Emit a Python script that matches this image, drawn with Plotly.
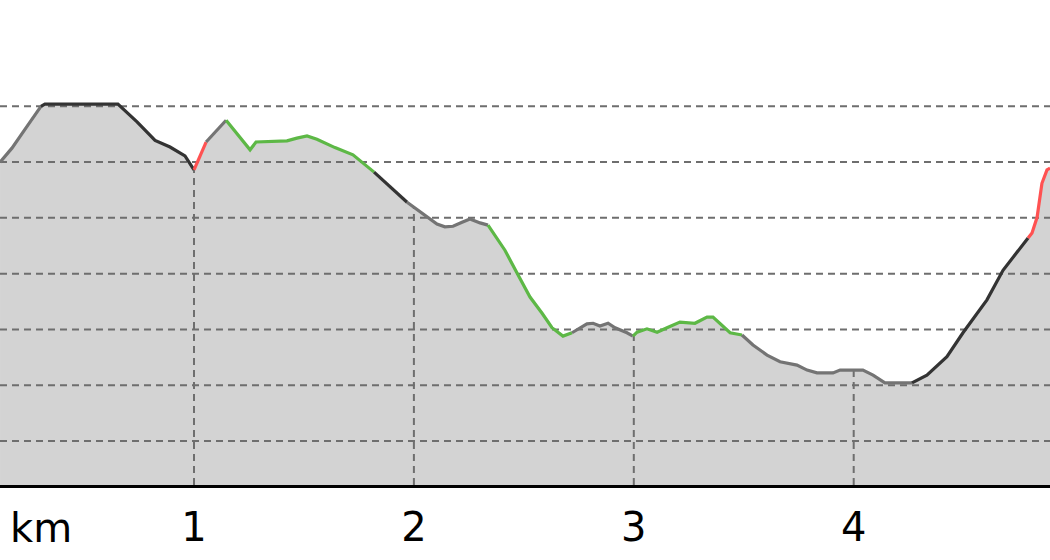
import numpy as np
import plotly.graph_objects as go

# distance along the route (km) and elevation (m)
dist_km = [0.118, 0.172, 0.232, 0.286, 0.304, 0.322, 0.654, 0.741, 0.823, 0.891,
           0.959, 1.000, 1.055, 1.146, 1.255, 1.282, 1.423, 1.468, 1.514, 1.559,
           1.641, 1.723, 1.819, 1.900, 1.969, 2.019, 2.105, 2.141, 2.178, 2.219,
           2.255, 2.301, 2.337, 2.414, 2.469, 2.528, 2.583, 2.628, 2.678, 2.719,
           2.755, 2.787, 2.815, 2.846, 2.883, 2.915, 2.969, 2.996, 3.015, 3.060,
           3.106, 3.151, 3.210, 3.278, 3.333, 3.360, 3.392, 3.438, 3.492, 3.542,
           3.606, 3.665, 3.742, 3.788, 3.833, 3.906, 3.938, 4.042, 4.088, 4.142,
           4.265, 4.333, 4.424, 4.497, 4.606, 4.679, 4.793, 4.811, 4.834, 4.856,
           4.879, 4.893]
elev_m = [160.0, 162.5, 165.9, 169.0, 170.0, 170.4, 170.4, 167.2, 163.9, 162.7,
          161.1, 158.6, 163.6, 167.5, 162.2, 163.6, 163.8, 164.3, 164.7, 164.1,
          162.6, 161.3, 158.2, 155.3, 152.8, 151.4, 148.9, 148.4, 148.5, 149.2,
          149.8, 149.1, 148.7, 144.2, 140.1, 135.8, 132.9, 130.3, 128.8, 129.4,
          130.3, 131.0, 131.1, 130.6, 131.1, 130.3, 129.4, 128.8, 129.5, 130.1,
          129.5, 130.3, 131.3, 131.1, 132.2, 132.2, 131.1, 129.4, 129.0, 127.2,
          125.4, 124.2, 123.6, 122.7, 122.2, 122.2, 122.7, 122.7, 121.8, 120.4,
          120.4, 121.8, 125.1, 129.4, 135.3, 140.6, 146.4, 147.3, 150.1, 156.2,
          158.6, 158.9]
# colour class of the segment that starts at each point
seg_class = (["gray"] * 4 + ["black"] * 7 + ["red"] + ["gray"] + ["green"] * 9
             + ["black"] * 2 + ["gray"] * 8 + ["green"] * 7 + ["gray"] * 8
             + ["green"] * 11 + ["gray"] * 12 + ["black"] * 6 + ["red"] * 5)

km_ticks = [1, 2, 3, 4]
km_labels = ["1", "2", "3", "4"]
grid_elev = [110, 120, 130, 140, 150, 160, 170]

class_colors = {"gray": "#747474", "black": "#333333",
                "red": "#ff5252", "green": "#5db846"}

x_range = [0.1178, 4.8927]
y_range = [102.1, 180.1]

fig = go.Figure()

# filled profile
fig.add_trace(go.Scatter(x=dist_km, y=elev_m, mode="lines", fill="tozeroy",
                         fillcolor="#d3d3d3", line=dict(width=0),
                         hoverinfo="skip", showlegend=False))

# horizontal dashed gridlines drawn above the fill
gx, gy = [], []
for v in grid_elev:
    gx += [x_range[0], x_range[1], None]
    gy += [v, v, None]
fig.add_trace(go.Scatter(x=gx, y=gy, mode="lines",
                         line=dict(color="#6e6e6e", width=2, dash="7px,5px"),
                         hoverinfo="skip", showlegend=False))

# vertical dashed lines at each km from the axis up to the profile
vx, vy = [], []
for k in km_ticks:
    vx += [k, k, None]
    vy += [y_range[0], float(np.interp(k, dist_km, elev_m)), None]
fig.add_trace(go.Scatter(x=vx, y=vy, mode="lines",
                         line=dict(color="#6e6e6e", width=2, dash="7px,5px"),
                         hoverinfo="skip", showlegend=False))

# coloured profile line, one trace per run of the same class
n = len(dist_km)
i = 0
while i < n - 1:
    c = seg_class[i]
    j = i
    while j < n - 1 and seg_class[j] == c:
        j += 1
    fig.add_trace(go.Scatter(x=dist_km[i:j + 1], y=elev_m[i:j + 1], mode="lines",
                             line=dict(color=class_colors[c], width=3.2),
                             hoverinfo="skip", showlegend=False))
    i = j

fig.add_annotation(text="km", xref="paper", yref="paper", x=8 / 1050, y=-43 / 435,
                   xanchor="left", yanchor="middle", showarrow=False,
                   font=dict(family="DejaVu Sans", size=40, color="black"))

fig.update_layout(
    width=1050, height=560,
    margin=dict(l=0, r=0, t=50, b=75),
    paper_bgcolor="white", plot_bgcolor="white",
    xaxis=dict(range=x_range, tickvals=km_ticks, ticktext=km_labels,
               showgrid=False, zeroline=False, showline=True,
               linecolor="black", linewidth=3, ticks="", ticklabelstandoff=5,
               tickfont=dict(family="DejaVu Sans", size=40, color="black")),
    yaxis=dict(range=y_range, showgrid=False, zeroline=False,
               showticklabels=False, showline=False),
)

fig.write_html("out.html", config={"displayModeBar": False},
               post_script="document.body.style.margin='0';document.body.style.padding='0';")
